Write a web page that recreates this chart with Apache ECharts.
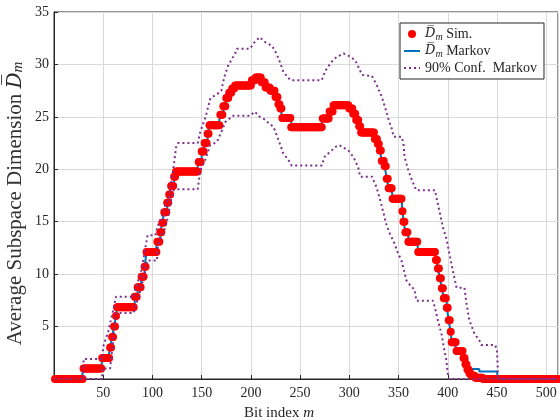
<!DOCTYPE html>
<html><head><meta charset="utf-8">
<script src="https://cdn.jsdelivr.net/npm/echarts@6/dist/echarts.min.js"></script>
<style>html,body{margin:0;padding:0;background:#fff}#c{width:560px;height:420px}</style>
</head><body><div id="c"></div>
<script>
// Simulated average subspace dimension: runs of [value, number of consecutive m], starting at m = 1
const simRuns = [
 [0,29],[1.0,19],[2.0,8],[3.0,2],[4.0,2],[5.0,2],[6.0,1],[6.85,18],[7.85,3],[8.75,4],[9.75,3],[10.7,2],
 [12.1,11],[13.1,3],[14.0,2],[14.9,2],[15.9,3],[16.8,2],[17.6,2],[18.4,3],[19.3,2],[19.8,23],
 [20.7,3],[21.7,3],[22.5,3],[23.4,2],[24.2,11],[25.2,3],[26.0,3],[26.8,3],[27.3,3],[27.7,3],[28.0,17],
 [28.5,4],[28.75,6],[28.3,4],[27.8,5],[27.5,5],[26.9,3],[26.2,2],[25.8,2],[24.9,9],[24.0,32],
 [24.85,7],[25.5,4],[26.1,16],[25.8,4],[25.3,3],[24.7,3],[24.1,2],[23.5,14],[22.9,3],[22.4,2],[21.8,2],
 [20.8,3],[20.3,2],[19.1,2],[18.2,4],[17.2,10],[16.0,1],[15.0,2],[14.0,3],[13.1,10],[12.1,18],
 [11.35,2],[10.55,2],[9.6,2],[8.65,2],[7.7,3],[6.8,2],[5.6,2],[4.5,1],[3.5,5],[2.67,7],[2.0,2],
 [1.4,2],[0.9,2],[0.55,2],[0.3,4],[0.12,8],[0,77]
];
// Markov-model average: runs of [value, count], starting at m = 1
const markovRuns = [
 [0,29],[1.0,19],[2.0,8],[3.0,2],[4.0,2],[5.0,2],[6.0,1],[6.85,18],[7.85,3],[8.75,4],[9.75,3],[10.7,2],
 [12.1,11],[13.1,3],[14.0,2],[14.9,2],[15.9,3],[16.8,2],[17.6,2],[18.4,3],[19.3,2],[19.8,23],
 [20.7,3],[21.7,3],[22.5,3],[23.4,2],[24.2,11],[25.2,3],[26.0,3],[26.8,3],[27.3,3],[27.7,3],[28.0,17],
 [28.5,4],[28.75,6],[28.3,4],[27.8,5],[27.5,5],[26.9,3],[26.2,2],[25.8,2],[24.9,9],[24.0,32],
 [24.85,7],[25.5,4],[26.1,16],[25.8,4],[25.3,3],[24.7,3],[24.1,2],[23.5,14],[22.9,3],[22.4,2],[21.8,2],
 [20.8,3],[20.3,2],[19.1,2],[18.2,4],[17.2,10],[16.0,1],[15.0,2],[14.0,3],[13.1,10],[12.1,18],
 [11.35,2],[10.55,2],[9.6,2],[8.65,2],[7.7,3],[6.8,2],[5.6,2],[4.5,1],[3.5,5],[2.67,8],[2.0,3],
 [0.95,12],[0.72,19],[0,62]
];
// 90% confidence bounds (Markov): [m, value]
const confUpper = [
 [1,0],[30,0],[30,1.9],[49,1.9],[50,3.1],[55,4.5],[60,6.5],[63,7.85],[81,7.85],[83,8.7],[88,10],[91,11.5],
 [95,13.7],[103,13.7],[105,14.5],[110,15.6],[113,16.6],[117,17.4],[122,20.6],[124,22.1],[126,22.5],[146,22.5],
 [149,23.7],[154,25.0],[159,26.8],[165,27.1],[170,27.5],[173,28.8],[177,29.9],[184,31.05],[186,31.5],[199,31.5],
 [204,32.15],[209,32.6],[214,32.15],[221,31.8],[224,31.4],[228,30.6],[233,29.3],[240,28.5],[272,28.5],
 [275,29.3],[282,30.25],[287,30.7],[294,31.05],[298,30.9],[306,30.4],[309,29.8],[313,29.0],[323,28.9],
 [328,28.0],[333,26.9],[336,26.0],[340,24.7],[343,23.9],[345,23.1],[353,23.1],[355,22.5],[356,21.2],
 [360,19.9],[363,19.1],[368,18.0],[387,18.0],[389,17.1],[392,15.8],[395,14.5],[399,13.25],[402,11.8],
 [405,10.4],[409,8.7],[417,8.7],[419,7.2],[422,5.6],[427,4.35],[432,3.7],[434,3.25],[448,3.25],[450,2.8],
 [451,0.5],[451,0],[512,0]
];
const confLower = [
 [1,0],[49,0],[49,1.0],[57,1.0],[60,3.5],[63,6.3],[81,6.3],[83,7.0],[88,8.5],[92,10],[94.5,11.3],[104.7,11.3],
 [105,12.3],[108.6,13.6],[112,14.2],[116,15.5],[118,16.75],[121.6,18.0],[125,18.1],[146,18.1],[148.6,19.9],
 [153.6,20.9],[158.7,22.3],[165.5,22.6],[170.6,23.7],[174,24.5],[179,24.9],[181,25.1],[199,25.1],[204,25.5],
 [209,25.0],[214,24.75],[218,24.4],[223,24.05],[228,22.8],[233,21.5],[238,20.9],[241.5,20.35],[272,20.35],
 [275,21.2],[282,21.8],[287,22.2],[290,22.3],[299,21.8],[304,21.2],[309,20.2],[311,19.3],[323,19.3],
 [327.6,18.3],[331,17.2],[334,16.1],[337.5,14.8],[341,13.9],[346,12.9],[349,12.1],[353,11.3],[354.6,10.7],
 [358,9.4],[363,8.8],[366.5,8.5],[368,7.47],[385,7.47],[386.7,6.9],[390,5.6],[393.5,4.35],[395.9,3.1],
 [398.6,1.8],[400,0.5],[401,0],[512,0]
];
const xTicks = [50,100,150,200,250,300,350,400,450,500];
const yTicks = [5,10,15,20,25,30,35];

function expandRuns(runs){
  const out = []; let m = 1;
  for (const [v, n] of runs){ for (let i = 0; i < n; i++){ out.push([m, v]); m++; } }
  return out;
}

const F = "'Liberation Serif', 'Times New Roman', serif";
const INK = '#262626';
const legendLabels = {
  sim: '{ov|D\u0305}{sub|m} Sim.',
  markov: '{ov|D\u0305}{sub|m} Markov',
  conf: '90% Conf.  Markov'
};
function richFor(size){
  return {
    ov: {fontFamily: "'DejaVu Serif'", fontStyle: 'italic', fontSize: size - 1, color: INK, lineHeight: 16},
    sub: {fontFamily: F, fontStyle: 'italic', fontSize: Math.round(size * 0.72), color: INK, lineHeight: 8, verticalAlign: 'bottom'},
    it: {fontFamily: F, fontStyle: 'italic', fontSize: size, color: INK}
  };
}

const chart = echarts.init(document.getElementById('c'), null, {renderer: 'canvas'});
chart.setOption({
  animation: false,
  backgroundColor: '#ffffff',
  grid: {left: 54, right: 2, top: 12, bottom: 41, show: true, borderColor: INK, borderWidth: 1,
         containLabel: false, outerBoundsMode: 'none'},
  legend: {
    orient: 'vertical', left: 400, top: 23,
    padding: [3, 7, 3, 3], itemGap: 1, itemWidth: 16, itemHeight: 8,
    backgroundColor: '#ffffff', borderColor: INK, borderWidth: 1, borderRadius: 0,
    textStyle: {fontFamily: F, fontSize: 14, color: INK, lineHeight: 16, rich: richFor(14)},
    formatter: name => legendLabels[name],
    data: [
      {name: 'sim', icon: 'circle', itemStyle: {color: '#ff0000', opacity: 1}},
      {name: 'markov', itemStyle: {opacity: 0}},
      {name: 'conf', itemStyle: {opacity: 0}}
    ]
  },
  xAxis: {
    type: 'value', min: 0, max: 512, interval: 50,
    name: 'Bit index {it|m}', nameLocation: 'middle', nameGap: 27, nameMoveOverlap: false,
    nameTextStyle: {fontFamily: F, fontSize: 15, color: INK, padding: [0, 54, 0, 0], rich: richFor(15)},
    axisLine: {show: true, onZero: false, lineStyle: {color: INK, width: 1}},
    axisTick: {show: true, inside: true, length: 4, lineStyle: {color: INK}},
    axisLabel: {margin: 7, fontFamily: F, fontSize: 14, color: INK, formatter: v => xTicks.includes(v) ? String(v) : ''},
    splitLine: {show: true, lineStyle: {color: '#dadada', width: 1}}
  },
  yAxis: {
    type: 'value', min: 0, max: 35, interval: 5,
    name: 'Average Subspace Dimension {ov|D\u0305}{sub|m}', nameLocation: 'middle', nameGap: 28, nameRotate: 90,
    nameMoveOverlap: false,
    nameTextStyle: {fontFamily: F, fontSize: 21, color: '#333333', padding: [0, 16, 0, 0], rich: richFor(21)},
    axisLine: {show: true, onZero: false, lineStyle: {color: INK, width: 1}},
    axisTick: {show: true, inside: true, length: 4, lineStyle: {color: INK}},
    axisLabel: {margin: 5, fontFamily: F, fontSize: 14, color: INK, formatter: v => yTicks.includes(v) ? String(v) : ''},
    splitLine: {show: true, lineStyle: {color: '#dadada', width: 1}}
  },
  series: [
    {name: 'sim', type: 'scatter', data: expandRuns(simRuns), symbol: 'circle', symbolSize: 8,
     itemStyle: {color: '#ff0000', opacity: 1}, z: 3, clip: false, silent: true},
    {name: 'markov', type: 'line', data: expandRuns(markovRuns), step: 'end', showSymbol: false, symbol: 'none',
     lineStyle: {color: '#0072bd', width: 2}, itemStyle: {color: '#0072bd', opacity: 0}, z: 2, silent: true},
    {name: 'conf', type: 'line', data: confUpper, showSymbol: false, symbol: 'none',
     lineStyle: {color: '#7e2f8e', width: 2, type: [2, 3]}, itemStyle: {color: '#7e2f8e', opacity: 0}, z: 4, silent: true},
    {name: 'conf', type: 'line', data: confLower, showSymbol: false, symbol: 'none',
     lineStyle: {color: '#7e2f8e', width: 2, type: [2, 3]}, itemStyle: {color: '#7e2f8e', opacity: 0}, z: 4, silent: true}
  ]
});
</script>
</body></html>
